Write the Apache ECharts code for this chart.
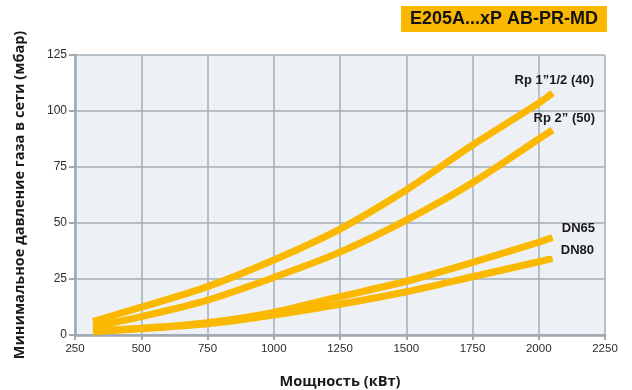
<!DOCTYPE html>
<html><head><meta charset="utf-8">
<script src="https://cdn.jsdelivr.net/npm/echarts@6/dist/echarts.min.js"></script>
<style>html,body{margin:0;padding:0;background:#fff}#c{width:632px;height:390px}</style>
</head><body><div id="c"></div>
<script>
const xTicks = [250, 500, 750, 1000, 1250, 1500, 1750, 2000, 2250];
const yTicks = [0, 25, 50, 75, 100, 125];
const power = [318, 500, 750, 1000, 1250, 1500, 1750, 2000, 2052];
const rp40 = [6, 12.4, 21.6, 33.5, 47.3, 64.7, 84.8, 103.5, 108];
const rp50 = [3.7, 8.2, 15.6, 25.7, 37, 51.3, 68, 87.5, 91.5];
const dn65 = [1.8, 3, 5.5, 10.1, 17.1, 24, 32.4, 41.4, 43.5];
const dn80 = [1.5, 2.8, 5, 8.9, 13.7, 19.3, 26, 32.7, 34.2];
const seriesNames = ['Rp 1\u201d1/2 (40)', 'Rp 2\u201d (50)', 'DN65', 'DN80'];
const seriesValues = [rp40, rp50, dn65, dn80];
const title = 'E205A...xP AB-PR-MD';
const xName = 'Мощность (кВт)';
const yName = 'Минимальное давление газа в сети (мбар)';

const chart = echarts.init(document.getElementById('c'));
const yellow = '#fbb800';
const labelPos = [[594, 80], [595, 118], [595, 228], [594, 250]];
chart.setOption({
  animation: false,
  grid: {left: 75, right: 27, top: 55, bottom: 55, show: true, backgroundColor: '#edf1f5', borderWidth: 0,
         containLabel: false, outerBoundsMode: 'none'},
  xAxis: {
    type: 'value', min: xTicks[0], max: xTicks[xTicks.length-1], interval: 250,
    name: xName, nameLocation: 'middle', nameGap: 39,
    nameTextStyle: {fontFamily: 'Open Sans', fontWeight: 'bold', fontSize: 14.6, color: '#1a1a1a'},
    axisLine: {lineStyle: {color: '#9ea9b1', width: 2.5}},
    axisTick: {show: true, length: 5, lineStyle: {color: '#9ea9b1', width: 2}},
    axisLabel: {fontFamily: 'Liberation Sans', fontSize: 11.5, color: '#2b2b2b', margin: 8, formatter: v => String(v)},
    splitLine: {lineStyle: {color: '#a3aeb6', width: 1.5}}
  },
  yAxis: {
    type: 'value', min: yTicks[0], max: yTicks[yTicks.length-1], interval: 25,
    name: yName, nameLocation: 'middle', nameGap: 48,
    nameTextStyle: {fontFamily: 'Open Sans', fontWeight: 'bold', fontSize: 14.5, color: '#1a1a1a'},
    axisLine: {show: true, lineStyle: {color: '#9ea9b1', width: 2.5}},
    axisTick: {show: true, length: 6, lineStyle: {color: '#9ea9b1', width: 2}},
    axisLabel: {fontFamily: 'Liberation Sans', fontSize: 12, color: '#2b2b2b', margin: 8, formatter: v => String(v)},
    splitLine: {lineStyle: {color: '#a3aeb6', width: 1.5}}
  },
  series: seriesValues.map((vals, i) => ({
    type: 'line', name: seriesNames[i], smooth: 0.3, symbol: 'none',
    data: power.map((p, j) => [p, vals[j]]),
    lineStyle: {color: yellow, width: 7, cap: 'butt'},
    z: 5
  })),
  graphic: [
    {type: 'rect', shape: {x: 401, y: 6, width: 206, height: 26}, style: {fill: '#fbb800'}},
    {type: 'text', x: 504, y: 19, style: {text: title, font: 'bold 18px "Liberation Sans"', fill: '#111', align: 'center', verticalAlign: 'middle'}}
  ].concat(seriesNames.map((n, i) => ({
    type: 'text', x: labelPos[i][0], y: labelPos[i][1], z: 10,
    style: {text: n, font: 'bold 13px "Liberation Sans"', fill: '#1a1a1a', align: 'right', verticalAlign: 'middle'}
  })))
});
</script></body></html>
